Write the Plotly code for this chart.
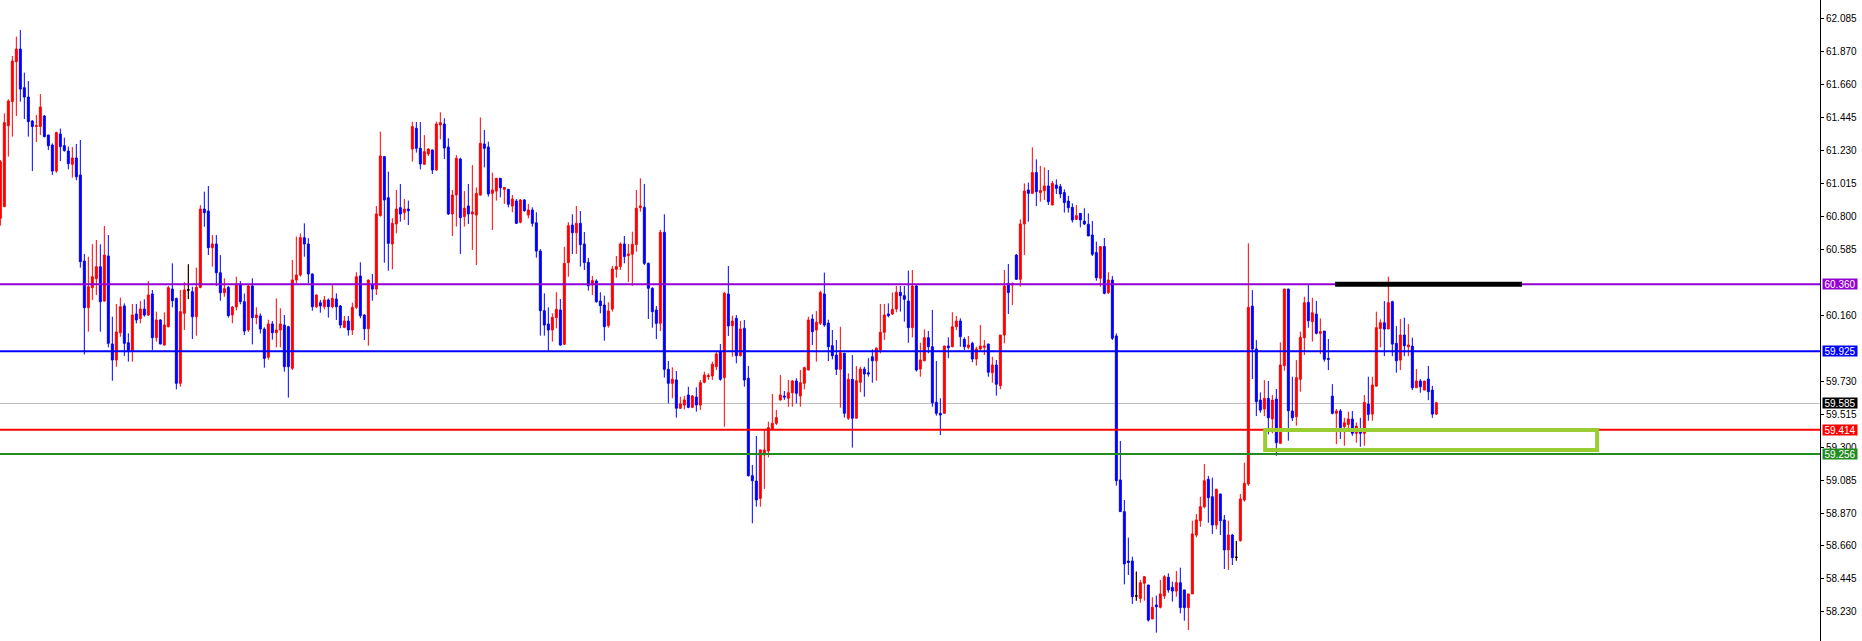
import plotly.graph_objects as go

# ---------------- data ----------------
open_ = [60.789, 60.864, 61.391, 61.547, 61.807, 61.889, 61.638, 61.577, 61.421, 61.385,
61.385, 61.454, 61.330, 61.265, 61.096, 61.337, 61.261, 61.226, 61.140, 61.181,
61.070, 60.511, 60.208, 60.338, 60.396, 60.474, 60.251, 60.544, 59.972, 59.868,
60.045, 60.219, 59.980, 59.928, 60.167, 60.138, 60.199, 60.160, 60.297, 60.013,
60.128, 59.965, 60.084, 60.329, 60.268, 59.716, 60.171, 60.323, 60.312, 60.149,
60.340, 60.849, 60.836, 60.598, 60.622, 60.435, 60.305, 60.340, 60.160, 60.212,
60.362, 60.247, 60.063, 60.349, 60.143, 60.154, 60.069, 59.885, 60.102, 60.045,
60.063, 60.095, 60.084, 59.814, 60.388, 60.420, 60.663, 60.622, 60.427, 60.214,
60.240, 60.214, 60.258, 60.214, 60.264, 60.219, 60.080, 60.121, 60.063, 60.210,
60.414, 60.160, 60.071, 60.355, 60.329, 60.806, 61.190, 60.923, 60.622, 60.752,
60.858, 60.826, 60.849, 61.239, 61.374, 61.244, 61.140, 61.207, 61.233, 61.103,
61.396, 61.402, 61.252, 60.817, 60.940, 61.174, 60.800, 60.869, 60.817, 60.810,
60.940, 61.272, 61.252, 60.951, 60.966, 61.049, 60.977, 60.977, 60.869, 60.901,
60.763, 60.908, 60.810, 60.843, 60.760, 60.576, 60.188, 60.102, 60.063, 60.143,
60.193, 59.970, 60.500, 60.745, 60.695, 60.756, 60.622, 60.503, 60.355, 60.381,
60.251, 60.225, 60.091, 60.199, 60.457, 60.475, 60.622, 60.546, 60.555, 60.618,
60.858, 60.860, 60.496, 60.334, 60.193, 60.106, 60.698, 59.807, 59.716, 59.738,
59.554, 59.575, 59.640, 59.560, 59.627, 59.575, 59.723, 59.759, 59.764, 59.824,
59.922, 59.753, 60.297, 60.091, 60.139, 59.896, 60.074, 59.749, 59.116, 59.081,
58.968, 59.250, 59.276, 59.417, 59.456, 59.608, 59.634, 59.619, 59.655, 59.731,
59.634, 59.716, 59.803, 60.134, 60.063, 60.106, 60.297, 60.108, 59.961, 59.900,
59.807, 59.911, 59.489, 59.742, 59.489, 59.723, 59.809, 59.785, 59.889, 59.863,
59.933, 60.048, 60.167, 60.167, 60.199, 60.308, 60.286, 60.251, 60.078, 60.349,
59.809, 59.863, 60.013, 59.954, 59.593, 59.521, 59.521, 59.959, 59.954, 60.084,
60.121, 60.002, 59.950, 59.976, 59.874, 59.939, 59.950, 59.972, 59.785, 59.835,
59.701, 60.030, 60.366, 60.355, 60.550, 60.392, 60.752, 60.973, 60.951, 61.086,
60.956, 60.969, 60.999, 60.875, 61.005, 60.995, 60.956, 60.901, 60.860, 60.782,
60.821, 60.771, 60.750, 60.680, 60.566, 60.399, 60.605, 60.305, 60.388, 60.024,
59.088, 58.882, 58.561, 58.561, 58.334, 58.318, 58.416, 58.405, 58.184, 58.275,
58.260, 58.334, 58.455, 58.390, 58.366, 58.420, 58.373, 58.258, 58.347, 58.730,
58.823, 58.914, 59.092, 58.979, 58.795, 58.997, 58.828, 58.633, 58.730, 58.585,
58.693, 58.958, 59.062, 60.218, 59.939, 59.607, 59.549, 59.618, 59.484, 59.614,
59.326, 59.831, 60.329, 59.536, 59.499, 59.742, 60.013, 60.242, 60.117, 60.166,
60.041, 60.056, 59.878, 59.633, 59.521, 59.536, 59.434, 59.449, 59.484, 59.391,
59.406, 59.391, 59.581, 59.516, 59.698, 60.073, 60.110, 60.069, 60.247, 59.976,
59.867, 60.030, 59.954, 59.958, 59.687, 59.731, 59.672, 59.744, 59.672, 59.516]

high_ = [61.168, 61.471, 61.562, 61.844, 61.970, 62.013, 61.736, 61.681, 61.428, 61.460,
61.597, 61.460, 61.332, 61.276, 61.352, 61.372, 61.313, 61.255, 61.252, 61.272,
61.298, 60.557, 60.539, 60.620, 60.648, 60.620, 60.739, 60.680, 60.149, 60.232,
60.273, 60.236, 60.041, 60.232, 60.232, 60.251, 60.262, 60.381, 60.323, 60.182,
60.133, 60.177, 60.349, 60.496, 60.273, 60.323, 60.373, 60.490, 60.344, 60.468,
60.875, 60.962, 60.999, 60.680, 60.680, 60.550, 60.399, 60.349, 60.219, 60.409,
60.381, 60.300, 60.360, 60.399, 60.210, 60.170, 60.080, 60.130, 60.120, 60.268,
60.204, 60.160, 60.090, 60.518, 60.670, 60.691, 60.756, 60.660, 60.430, 60.294,
60.258, 60.284, 60.268, 60.355, 60.301, 60.225, 60.154, 60.154, 60.240, 60.438,
60.503, 60.165, 60.390, 60.427, 60.869, 61.352, 61.194, 61.092, 60.789, 60.973,
61.012, 60.914, 60.904, 61.417, 61.415, 61.415, 61.330, 61.244, 61.235, 61.417,
61.478, 61.439, 61.309, 60.973, 61.200, 61.183, 60.966, 61.012, 61.135, 60.990,
61.445, 61.363, 61.287, 61.086, 61.050, 61.050, 60.990, 60.980, 60.940, 60.914,
60.914, 60.914, 60.882, 60.860, 60.828, 60.589, 60.301, 60.210, 60.171, 60.308,
60.264, 60.604, 60.763, 60.815, 60.869, 60.836, 60.700, 60.531, 60.414, 60.392,
60.308, 60.286, 60.243, 60.479, 60.544, 60.633, 60.674, 60.622, 60.702, 60.973,
61.049, 61.012, 60.501, 60.340, 60.219, 60.713, 60.815, 59.861, 59.820, 59.796,
59.629, 59.634, 59.694, 59.640, 59.690, 59.738, 59.792, 59.781, 59.857, 59.922,
59.972, 60.312, 60.479, 60.156, 60.160, 60.121, 60.128, 59.829, 59.185, 59.374,
59.285, 59.413, 59.467, 59.647, 59.543, 59.770, 59.666, 59.738, 59.738, 59.749,
59.803, 59.824, 60.150, 60.165, 60.186, 60.319, 60.436, 60.130, 60.063, 59.998,
60.084, 59.915, 59.781, 59.900, 59.829, 59.824, 59.824, 59.879, 59.937, 59.950,
60.232, 60.232, 60.236, 60.306, 60.349, 60.349, 60.349, 60.449, 60.453, 60.355,
59.980, 60.067, 60.056, 60.193, 59.861, 59.619, 59.960, 60.015, 60.178, 60.154,
60.139, 60.015, 60.024, 59.987, 59.954, 60.095, 59.998, 59.972, 59.889, 59.868,
60.030, 60.453, 60.492, 60.370, 60.557, 60.782, 61.016, 61.021, 61.250, 61.172,
61.129, 61.120, 61.103, 61.031, 61.042, 61.012, 60.977, 60.934, 60.886, 60.875,
60.821, 60.854, 60.821, 60.771, 60.637, 60.605, 60.661, 60.438, 60.414, 60.041,
59.341, 58.958, 58.713, 58.589, 58.492, 58.438, 58.464, 58.405, 58.325, 58.336,
58.438, 58.470, 58.481, 58.427, 58.496, 58.518, 58.373, 58.347, 58.823, 58.867,
58.979, 59.192, 59.114, 59.103, 59.031, 58.997, 58.860, 58.823, 58.737, 58.691,
58.997, 59.200, 60.626, 60.322, 59.997, 59.657, 59.737, 59.731, 59.640, 59.679,
59.982, 60.330, 60.330, 59.759, 59.867, 60.052, 60.279, 60.359, 60.272, 60.251,
60.138, 60.056, 60.004, 59.711, 59.549, 59.549, 59.492, 59.531, 59.536, 59.462,
59.492, 59.640, 59.759, 59.759, 60.182, 60.132, 60.251, 60.409, 60.253, 60.088,
60.134, 60.143, 60.101, 60.013, 59.809, 59.744, 59.731, 59.829, 59.700, 59.596]

low_ = [60.741, 60.864, 61.190, 61.320, 61.454, 61.547, 61.434, 61.320, 61.096, 61.285,
61.330, 61.315, 61.233, 61.070, 61.085, 61.161, 61.222, 61.107, 61.053, 61.036,
60.468, 59.904, 60.052, 60.258, 60.290, 60.052, 60.247, 59.950, 59.733, 59.824,
60.019, 59.894, 59.857, 59.857, 60.106, 60.106, 60.149, 60.154, 59.933, 59.987,
59.969, 59.961, 60.080, 60.210, 59.677, 59.694, 60.063, 60.264, 60.004, 60.026,
60.334, 60.734, 60.550, 60.474, 60.349, 60.253, 60.279, 60.143, 60.106, 60.190,
60.230, 60.030, 60.050, 59.969, 60.100, 60.040, 59.818, 59.870, 60.000, 59.950,
59.950, 59.792, 59.623, 59.803, 60.366, 60.410, 60.539, 60.366, 60.188, 60.204,
60.175, 60.197, 60.143, 60.204, 60.128, 60.074, 60.074, 60.026, 60.030, 60.199,
60.139, 59.998, 59.961, 60.253, 60.290, 60.800, 60.500, 60.448, 60.457, 60.691,
60.767, 60.778, 60.745, 61.157, 61.216, 61.107, 61.135, 61.194, 61.077, 61.098,
61.302, 61.174, 60.810, 60.674, 60.735, 60.557, 60.735, 60.752, 60.583, 60.485,
60.936, 61.120, 60.930, 60.713, 60.904, 60.925, 60.882, 60.860, 60.828, 60.752,
60.756, 60.832, 60.789, 60.735, 60.533, 60.026, 60.026, 59.928, 59.987, 60.074,
59.960, 59.965, 60.409, 60.557, 60.557, 60.475, 60.453, 60.319, 60.290, 60.240,
60.171, 59.993, 60.078, 60.182, 60.403, 60.453, 60.496, 60.375, 60.349, 60.572,
60.832, 60.485, 60.134, 60.078, 60.004, 60.056, 59.753, 59.586, 59.619, 59.493,
59.549, 59.547, 59.554, 59.555, 59.532, 59.543, 59.716, 59.738, 59.738, 59.803,
59.733, 59.434, 60.024, 59.889, 59.846, 59.890, 59.694, 59.110, 58.806, 58.914,
58.914, 59.029, 59.235, 59.415, 59.445, 59.603, 59.608, 59.564, 59.564, 59.586,
59.564, 59.677, 59.800, 59.965, 59.857, 60.095, 60.084, 59.861, 59.872, 59.770,
59.558, 59.493, 59.478, 59.298, 59.489, 59.658, 59.629, 59.759, 59.720, 59.733,
59.911, 59.998, 60.145, 60.160, 60.178, 60.182, 60.117, 59.980, 60.015, 59.792,
59.759, 59.860, 59.911, 59.564, 59.506, 59.380, 59.520, 59.879, 59.950, 60.063,
59.954, 59.933, 59.937, 59.853, 59.831, 59.922, 59.900, 59.759, 59.720, 59.636,
59.677, 59.976, 60.167, 60.225, 60.388, 60.345, 60.550, 60.767, 60.951, 60.869,
60.897, 60.908, 60.875, 60.875, 60.947, 60.919, 60.826, 60.826, 60.761, 60.778,
60.730, 60.745, 60.674, 60.544, 60.383, 60.344, 60.295, 60.297, 59.998, 59.051,
58.882, 58.409, 58.470, 58.282, 58.303, 58.290, 58.303, 58.167, 58.184, 58.095,
58.253, 58.314, 58.355, 58.297, 58.329, 58.221, 58.173, 58.112, 58.347, 58.715,
58.784, 58.903, 58.810, 58.737, 58.767, 58.730, 58.509, 58.503, 58.535, 58.563,
58.687, 58.947, 59.049, 59.744, 59.503, 59.525, 59.503, 59.384, 59.391, 59.245,
59.326, 59.798, 59.343, 59.471, 59.441, 59.662, 59.900, 60.078, 59.987, 60.034,
59.906, 59.857, 59.802, 59.514, 59.321, 59.354, 59.310, 59.401, 59.375, 59.330,
59.304, 59.310, 59.473, 59.473, 59.694, 59.950, 59.893, 60.069, 59.893, 59.785,
59.802, 59.893, 59.893, 59.672, 59.687, 59.655, 59.672, 59.607, 59.492, 59.510]

close_ = [61.157, 61.411, 61.551, 61.811, 61.889, 61.629, 61.577, 61.417, 61.385, 61.391,
61.512, 61.320, 61.261, 61.096, 61.346, 61.255, 61.229, 61.144, 61.181, 61.059,
60.507, 60.208, 60.344, 60.409, 60.474, 60.247, 60.550, 59.976, 59.868, 60.050,
60.214, 59.976, 59.928, 60.160, 60.128, 60.199, 60.160, 60.290, 60.013, 60.128,
59.972, 60.095, 60.338, 60.253, 59.716, 60.182, 60.323, 60.323, 60.149, 60.340,
60.849, 60.825, 60.598, 60.622, 60.435, 60.305, 60.331, 60.156, 60.212, 60.362,
60.247, 60.056, 60.349, 60.143, 60.160, 60.069, 59.878, 60.102, 60.045, 60.063,
60.102, 59.824, 59.824, 60.388, 60.420, 60.663, 60.622, 60.427, 60.214, 60.290,
60.219, 60.258, 60.214, 60.268, 60.214, 60.095, 60.121, 60.063, 60.210, 60.409,
60.156, 60.071, 60.388, 60.329, 60.817, 61.194, 60.908, 60.626, 60.756, 60.849,
60.817, 60.849, 60.838, 61.385, 61.244, 61.142, 61.222, 61.239, 61.103, 61.402,
61.411, 61.246, 60.817, 60.940, 61.179, 60.793, 60.854, 60.817, 60.830, 60.951,
61.276, 61.244, 60.947, 60.973, 61.049, 60.988, 60.990, 60.880, 60.914, 60.756,
60.908, 60.838, 60.843, 60.756, 60.576, 60.188, 60.095, 60.063, 60.145, 60.197,
59.965, 60.496, 60.741, 60.695, 60.756, 60.618, 60.501, 60.351, 60.384, 60.247,
60.221, 60.084, 60.186, 60.459, 60.475, 60.622, 60.540, 60.557, 60.620, 60.854,
60.869, 60.496, 60.334, 60.182, 60.106, 60.698, 59.807, 59.716, 59.742, 59.554,
59.582, 59.608, 59.560, 59.634, 59.575, 59.720, 59.770, 59.766, 59.840, 59.907,
59.742, 60.301, 60.089, 60.121, 59.896, 60.069, 59.738, 59.116, 59.083, 58.958,
59.283, 59.283, 59.428, 59.456, 59.493, 59.640, 59.627, 59.655, 59.731, 59.651,
59.720, 59.818, 60.128, 60.052, 60.113, 60.306, 60.095, 59.954, 59.896, 59.807,
59.915, 59.521, 59.742, 59.489, 59.733, 59.809, 59.777, 59.777, 59.863, 59.944,
60.048, 60.160, 60.156, 60.197, 60.308, 60.286, 60.262, 60.078, 60.349, 59.803,
59.868, 60.013, 59.954, 59.590, 59.521, 59.510, 59.959, 59.948, 60.084, 60.121,
60.019, 59.954, 59.965, 59.874, 59.939, 59.959, 59.959, 59.788, 59.835, 59.710,
60.030, 60.349, 60.306, 60.366, 60.392, 60.752, 60.966, 60.951, 61.086, 60.962,
60.969, 60.999, 60.897, 61.016, 60.984, 60.947, 60.891, 60.858, 60.778, 60.806,
60.778, 60.752, 60.674, 60.555, 60.403, 60.605, 60.301, 60.388, 60.009, 59.083,
58.882, 58.542, 58.552, 58.329, 58.334, 58.420, 58.459, 58.177, 58.260, 58.264,
58.347, 58.459, 58.373, 58.366, 58.420, 58.258, 58.258, 58.347, 58.737, 58.828,
58.914, 59.083, 58.973, 58.795, 59.027, 58.823, 58.633, 58.730, 58.583, 58.585,
58.964, 59.066, 60.210, 59.939, 59.597, 59.542, 59.618, 59.492, 59.607, 59.330,
59.835, 60.329, 59.538, 59.492, 59.753, 60.015, 60.240, 60.123, 60.175, 60.041,
60.052, 59.872, 59.872, 59.521, 59.536, 59.428, 59.460, 59.484, 59.391, 59.438,
59.391, 59.592, 59.514, 59.705, 60.078, 60.110, 60.069, 60.240, 59.971, 59.863,
60.030, 59.961, 59.965, 59.687, 59.731, 59.694, 59.731, 59.662, 59.516, 59.590]

bar_index = list(range(len(open_)))
doji_index = [47, 284, 309]

tick_vals = [62.085, 61.870, 61.660, 61.445, 61.230, 61.015, 60.800, 60.585, 60.160,
             59.730, 59.515, 59.300, 59.085, 58.870, 58.660, 58.445, 58.230]

level_values = [60.360, 59.925, 59.585, 59.414, 59.256]
level_colors = ["#9400D3", "#0000FF", "#C0C0C0", "#FF0000", "#228B22"]
label_colors = ["#9400D3", "#0000FF", "#000000", "#FF0000", "#228B22"]
level_widths = [2, 2, 1, 2, 2]

black_seg_x = [333.7, 380.4]
black_seg_y = 60.360
zone_x = [316.2, 399.2]
zone_y = [59.282, 59.412]

y_range = [58.041, 62.208]
x_range = [-0.083, 454.917]

# ---------------- figure ----------------
fig = go.Figure()
fig.add_trace(go.Candlestick(
    x=bar_index, open=open_, high=high_, low=low_, close=close_,
    increasing=dict(line=dict(color="#FF0000", width=1), fillcolor="#FF0000"),
    decreasing=dict(line=dict(color="#0000FF", width=1), fillcolor="#0000FF"),
    whiskerwidth=0, hoverinfo="skip", showlegend=False,
))
fig.add_trace(go.Candlestick(
    x=doji_index,
    open=[open_[i] for i in doji_index], high=[high_[i] for i in doji_index],
    low=[low_[i] for i in doji_index], close=[close_[i] for i in doji_index],
    increasing=dict(line=dict(color="#000000", width=1), fillcolor="#000000"),
    decreasing=dict(line=dict(color="#000000", width=1), fillcolor="#000000"),
    whiskerwidth=0, hoverinfo="skip", showlegend=False,
))

shapes = []
for v, c, w in zip(level_values, level_colors, level_widths):
    shapes.append(dict(type="line", xref="paper", yref="y", x0=0, x1=1, y0=v, y1=v,
                       line=dict(color=c, width=w),
                       layer="below" if c == "#C0C0C0" else "above"))
shapes.append(dict(type="line", xref="x", yref="y", x0=black_seg_x[0], x1=black_seg_x[1],
                   y0=black_seg_y, y1=black_seg_y, line=dict(color="#000000", width=5),
                   layer="above"))
shapes.append(dict(type="rect", xref="x", yref="y", x0=zone_x[0], x1=zone_x[1],
                   y0=zone_y[0], y1=zone_y[1], line=dict(color="#9ACD32", width=4),
                   fillcolor="rgba(0,0,0,0)", layer="above"))

annotations = []
for v, c in zip(level_values, label_colors):
    annotations.append(dict(x=1, xref="paper", y=v, yref="y", xanchor="left", yanchor="middle",
                            xshift=2, text=f"{v:.3f}", showarrow=False, bgcolor=c,
                            font=dict(family="Liberation Sans, Arial", size=10, color="#FFFFFF"),
                            width=34, height=10, borderpad=0, align="center"))

fig.update_layout(
    width=1862, height=641,
    margin=dict(l=0, r=42, t=0, b=0, pad=0),
    paper_bgcolor="#FFFFFF", plot_bgcolor="#FFFFFF",
    boxgap=0.3, boxgroupgap=0.3,
    showlegend=False,
    xaxis=dict(range=x_range, visible=False, rangeslider=dict(visible=False),
               showgrid=False, zeroline=False, fixedrange=True),
    yaxis=dict(range=y_range, side="right", tickvals=tick_vals,
               ticktext=[f"{v:.3f}" for v in tick_vals],
               ticks="outside", ticklen=3, tickcolor="#000000", tickwidth=1,
               showline=True, linecolor="#000000", linewidth=1,
               showgrid=False, zeroline=False, fixedrange=True,
               tickfont=dict(family="Liberation Sans, Arial", size=10, color="#000000")),
    shapes=shapes, annotations=annotations,
)

fig.write_html("out.html", config={"displayModeBar": False},
               post_script="document.body.style.margin='0px';")
